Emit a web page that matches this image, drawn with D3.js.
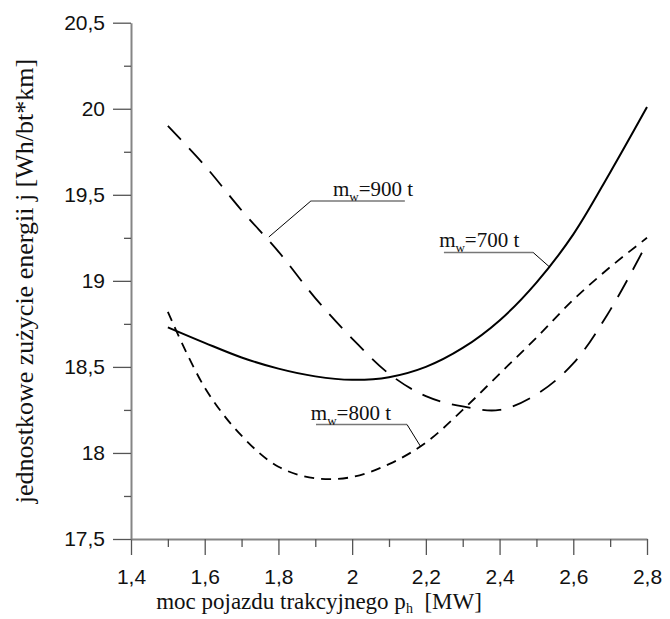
<!DOCTYPE html>
<html>
<head>
<meta charset="utf-8">
<script src="https://cdn.jsdelivr.net/npm/d3@7"></script>
<style>
  body { margin: 0; background: #fff; }
  svg { display: block; }
</style>
</head>
<body>
<div id="chart"></div>
<script>
// data
const powerMW = [1.5, 1.6, 1.7, 1.8, 1.9, 2.0, 2.1, 2.2, 2.3, 2.4, 2.5, 2.6, 2.7, 2.8];
const energy700 = [18.73, 18.64, 18.555, 18.49, 18.445, 18.425, 18.44, 18.50, 18.61, 18.77, 18.99, 19.27, 19.63, 20.01];
const energy800 = [18.82, 18.38, 18.10, 17.92, 17.853, 17.86, 17.935, 18.06, 18.25, 18.46, 18.67, 18.89, 19.08, 19.25];
const energy900 = [19.90, 19.67, 19.41, 19.17, 18.90, 18.665, 18.46, 18.33, 18.27, 18.25, 18.34, 18.52, 18.83, 19.22];

const xMajor = [1.4, 1.6, 1.8, 2.0, 2.2, 2.4, 2.6, 2.8];
const xMinor = [1.5, 1.7, 1.9, 2.1, 2.3, 2.5, 2.7];
const yMajor = [17.5, 18, 18.5, 19, 19.5, 20, 20.5];
const yMinor = [17.75, 18.25, 18.75, 19.25, 19.75, 20.25];

const series = [
  {name: '700', values: energy700, dash: null, width: 2},
  {name: '800', values: energy800, dash: '10,7', width: 1.8},
  {name: '900', values: energy900, dash: '19,12', width: 1.8}
];

// labels: text start, underline from/to, underline level, leader end on the curve
const notes = [
  {mass: '900', tx: 1.948, u0: 1.888, u1: 2.143, uy: 19.464, elbow: 'left',  lx: 1.774, ly: 19.255},
  {mass: '700', tx: 2.236, u0: 2.249, u1: 2.491, uy: 19.165, elbow: 'right', lx: 2.537, ly: 19.078},
  {mass: '800', tx: 1.888, u0: 1.902, u1: 2.149, uy: 18.165, elbow: 'right', lx: 2.185, ly: 18.04}
];

// no serif face in the sandbox, the titles fall back to sans anyway
const SANS = 'Liberation Sans, Arial, sans-serif';
const SERIF = 'Liberation Serif, Times New Roman, serif';

const width = 670, height = 619;
const svg = d3.select('#chart').append('svg')
  .attr('width', width).attr('height', height);

const x = d3.scaleLinear([1.4, 2.8], [131, 647]);
const y = d3.scaleLinear([17.5, 20.5], [539, 22.7]);
const fmt = d => String(+d.toFixed(2)).replace('.', ',');

// axes
const gx = svg.append('g').attr('transform', `translate(0,${y(17.5)})`);
gx.call(d3.axisBottom(x).tickValues(xMajor).tickSize(16).tickSizeOuter(0).tickFormat(fmt));
gx.append('g').call(d3.axisBottom(x).tickValues(xMinor).tickSize(8).tickFormat(''))
  .select('.domain').remove();
gx.selectAll('.tick text').attr('y', 30);

const gy = svg.append('g').attr('transform', `translate(${x(1.4)},0)`);
gy.call(d3.axisLeft(y).tickValues(yMajor).tickSize(18).tickSizeOuter(0).tickFormat(fmt));
gy.append('g').call(d3.axisLeft(y).tickValues(yMinor).tickSize(7).tickFormat(''))
  .select('.domain').remove();
gy.selectAll('.tick text').attr('x', -26);

svg.selectAll('.tick text')
  .attr('font-family', SANS).attr('font-size', 21).attr('fill', '#111');
svg.selectAll('.domain').attr('stroke', '#858585').attr('stroke-width', 2);
svg.selectAll('.tick line').attr('stroke', '#555').attr('stroke-width', 1.3);

// curves
const line = d3.line()
  .x((d, i) => x(powerMW[i]))
  .y(d => y(d))
  .curve(d3.curveCatmullRom.alpha(0.5));

svg.append('g').selectAll('path').data(series).join('path')
  .attr('d', d => line(d.values))
  .attr('fill', 'none')
  .attr('stroke', '#000')
  .attr('stroke-width', d => d.width)
  .attr('stroke-dasharray', d => d.dash);

// annotations
const ann = svg.append('g');
notes.forEach(n => {
  const ex = n.elbow === 'left' ? n.u0 : n.u1;
  ann.append('line')
    .attr('x1', x(n.u0)).attr('x2', x(n.u1))
    .attr('y1', y(n.uy)).attr('y2', y(n.uy))
    .attr('stroke', '#777').attr('stroke-width', 1.6);
  ann.append('line')
    .attr('x1', x(ex)).attr('y1', y(n.uy))
    .attr('x2', x(n.lx)).attr('y2', y(n.ly))
    .attr('stroke', '#000').attr('stroke-width', 1);
  const t = ann.append('text')
    .attr('font-family', SERIF).attr('font-size', 21).attr('fill', '#111')
    .attr('x', x(n.tx)).attr('y', y(n.uy) - 5);
  t.append('tspan').text('m');
  t.append('tspan').text('w').attr('font-size', 13).attr('dy', 5);
  t.append('tspan').text(`=${n.mass} t`).attr('dy', -5);
});

// axis titles
const xt = svg.append('text')
  .attr('font-family', SERIF).attr('font-size', 23).attr('fill', '#111')
  .attr('x', 319).attr('y', 609)
  .attr('text-anchor', 'middle');
xt.append('tspan').text('moc pojazdu trakcyjnego p');
xt.append('tspan').text('h').attr('font-size', 14).attr('dy', 4);
xt.append('tspan').text('\u00a0 [MW]').attr('dy', -4);

svg.append('text')
  .attr('font-family', SERIF).attr('font-size', 26).attr('fill', '#111')
  .attr('transform', `translate(33,281) rotate(-90)`)
  .attr('text-anchor', 'middle')
  .text('jednostkowe zużycie energii j [Wh/bt*km]');
</script>
</body>
</html>
